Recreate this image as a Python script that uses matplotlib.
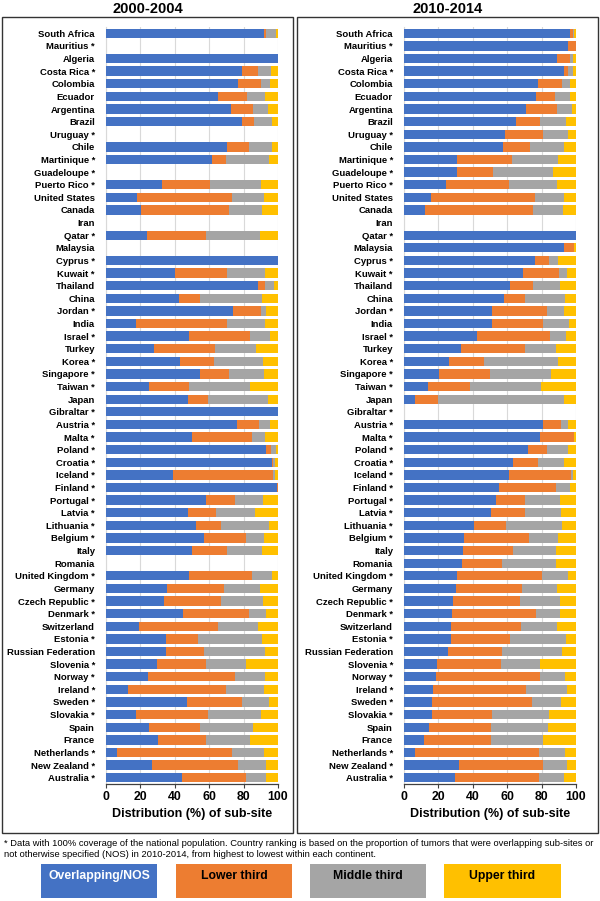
import matplotlib
matplotlib.use("Agg")
import matplotlib.pyplot as plt
from matplotlib.patches import Rectangle
import numpy as np

plt.rcParams['font.family'] = ['Liberation Sans', 'DejaVu Sans']

countries = ["South Africa", "Mauritius *", "Algeria", "Costa Rica *", "Colombia", "Ecuador",
             "Argentina", "Brazil", "Uruguay *", "Chile", "Martinique *", "Guadeloupe *",
             "Puerto Rico *", "United States", "Canada", "Iran", "Qatar *", "Malaysia",
             "Cyprus *", "Kuwait *", "Thailand", "China", "Jordan *", "India", "Israel *",
             "Turkey", "Korea *", "Singapore *", "Taiwan *", "Japan", "Gibraltar *",
             "Austria *", "Malta *", "Poland *", "Croatia *", "Iceland *", "Finland *",
             "Portugal *", "Latvia *", "Lithuania *", "Belgium *", "Italy", "Romania",
             "United Kingdom *", "Germany", "Czech Republic *", "Denmark *", "Switzerland",
             "Estonia *", "Russian Federation", "Slovenia *", "Norway *", "Ireland *",
             "Sweden *", "Slovakia *", "Spain", "France", "Netherlands *", "New Zealand *",
             "Australia *"]

periods = ["2000-2004", "2010-2014"]
series_names = ["Overlapping/NOS", "Lower third", "Middle third", "Upper third"]
colors = ["#4472C4", "#ED7D31", "#A5A5A5", "#FFC000"]

# 2000-2004: [overlapping/NOS, lower, middle, upper]
p1_overlap = [92, 0, 100, 79, 77, 65, 72.6, 79.2, 0, 70.3, 61.7, 0, 32.6, 18.3, 20.6, 0, 23.7, 0,
              100, 40.4, 88.5, 42.3, 73.6, 17.3, 48.5, 28, 43.1, 54.6, 25, 47.8, 100,
              76.3, 49.9, 93, 96.3, 39, 99.4, 57.9, 47.4, 52.2, 57.1, 50.1, 0,
              48.5, 35.5, 33.8, 44.7, 19.4, 34.8, 34.6, 29.9, 24.5, 13, 47, 17.5, 25, 30.1,
              6.2, 26.6, 44.1]
p1_lower = [1, 0, 0, 9.3, 13.2, 16.7, 13, 6.8, 0, 12.8, 8, 0, 27.6, 55.1, 51.1, 0, 34.6, 0,
            0, 29.9, 3.9, 12.5, 16.7, 53.2, 35.4, 35.5, 19.8, 17.2, 23.5, 11.4, 0,
            12.4, 35.1, 3.1, 0.6, 57.9, 0.4, 16.9, 16.5, 14.8, 24.5, 20.2, 0,
            36.4, 33.2, 33, 38.4, 46, 18.8, 22.5, 28.4, 50.3, 56.9, 31.8, 41.7, 29.8, 27.8,
            67, 50.1, 37.1]
p1_middle = [6, 0, 0, 7.4, 4.9, 10.5, 8.4, 10.5, 0, 13.2, 25.3, 0, 29.9, 18.6, 19.2, 0, 31.4, 0,
             0, 22.3, 5.3, 36.1, 2.9, 22.1, 11.4, 23.7, 28.2, 19.9, 35, 35.2, 0,
             6.8, 7.6, 2.7, 1.5, 1.4, 0, 16.3, 22.9, 28, 10.1, 20.4, 0,
             11.4, 21, 24.7, 9.7, 22.8, 37.1, 35.3, 23.1, 17.8, 22.1, 16, 31.1, 30.6, 25.8,
             18.6, 16.3, 11.6]
p1_upper = [1, 0, 0, 4.1, 5, 8, 6, 3.5, 0, 3.7, 5, 0, 9.9, 8, 9.1, 0, 10.3, 0,
            0, 7.4, 2.3, 9.1, 6.8, 7.4, 4.7, 12.8, 8.9, 8.3, 16.5, 5.6, 0,
            4.5, 7.4, 1.2, 1.6, 1.7, 0.2, 8.9, 13.2, 5, 8.3, 9.3, 0,
            3.7, 10.3, 8.5, 7.2, 11.8, 9.3, 7.6, 18.6, 7.4, 8, 5.2, 9.7, 14.6, 16.3,
            8.2, 7, 7.2]

# 2010-2014
p2_overlap = [96.7, 95.1, 88.9, 92.8, 78.1, 76.9, 71.1, 65.2, 59, 57.7, 31.1, 30.7, 24.7, 15.5, 12,
              0, 100, 93.2, 76.3, 69.3, 61.4, 58.3, 51.3, 51.3, 42.3, 33, 26.2, 20.2, 14, 6.4, 0,
              80.6, 78.8, 72, 63.5, 61.2, 55.3, 53.2, 50.7, 40.6, 34.8, 34.4, 33.8,
              30.9, 30.1, 28.7, 28, 27.6, 27.4, 25.8, 19.2, 18.6, 16.9, 16.5, 16.5, 14.6, 11.5,
              6.4, 32.2, 29.5]
p2_lower = [1.4, 4.9, 7.4, 2.5, 13.7, 11.1, 17.6, 13.8, 22, 15.5, 31.4, 21.1, 36.5, 60.8, 62.8,
            0, 0, 5.6, 8.2, 20.6, 13.6, 12.2, 32, 29.7, 42.4, 37.1, 20.2, 29.9, 24.3, 13.4, 0,
            10.5, 19.8, 11.3, 14.4, 36.1, 33, 17.3, 19.8, 18.6, 38, 28.7, 23.3,
            49.1, 38.6, 38.9, 48.5, 40.6, 34.2, 30.9, 37.3, 60.6, 54, 57.7, 34.6, 36.1, 38.8,
            72.2, 48.6, 49.1]
p2_middle = [0.7, 0, 2, 3.1, 4.9, 8.5, 9, 15.2, 14.3, 19.6, 27, 34.6, 27.7, 16.9, 17.6,
             0, 0, 0, 5, 5.1, 15.9, 23.3, 9.5, 14.9, 9.7, 18.1, 43.1, 35.1, 41.5, 73.4, 0,
             4, 0, 12.2, 15.1, 1, 8.2, 20, 21, 32.8, 16.7, 25.2, 31.1,
             15.1, 20.4, 22.9, 14.2, 20.7, 32.4, 35.1, 22.5, 14.6, 24.1, 17.3, 33.4, 32.8, 30.7,
             15.2, 13.8, 14.4]
p2_upper = [1.2, 0, 1.7, 1.6, 3.3, 3.5, 2.3, 5.8, 4.7, 7.2, 10.5, 13.6, 11.1, 6.8, 7.6,
            0, 0, 1.2, 10.5, 5, 9.1, 6.2, 7.2, 4.1, 5.6, 11.8, 10.5, 14.8, 20.2, 6.8, 0,
            4.9, 1.4, 4.5, 7, 1.7, 3.5, 9.5, 8.5, 8, 10.5, 11.7, 11.8,
            4.9, 10.9, 9.5, 9.3, 11.1, 6, 8.2, 21, 6.2, 5, 8.5, 15.5, 16.5, 19,
            6.2, 5.4, 7]

xticks = [0, 20, 40, 60, 80, 100]
xlabel = "Distribution (%) of sub-site"
footnote = ("* Data with 100% coverage of the national population. Country ranking is based on the proportion of tumors that were overlapping sub-sites or\n"
            "not otherwise specified (NOS) in 2010-2014, from highest to lowest within each continent.")

W, H = 600, 901
fig = plt.figure(figsize=(W / 100, H / 100), dpi=100)

def fx(px):
    return px / W

def fy(py):
    return 1 - py / H

panel_data = [[p1_overlap, p1_lower, p1_middle, p1_upper],
              [p2_overlap, p2_lower, p2_middle, p2_upper]]
axes_left_px = [106, 404]
frames = [(2, 293), (297, 598)]
ax_top, ax_bot = 27, 784

for i in range(2):
    x0, x1 = frames[i]
    fig.patches.append(Rectangle((fx(x0), fy(833)), fx(x1) - fx(x0), fy(17) - fy(833),
                                 transform=fig.transFigure, fill=False,
                                 edgecolor="#333333", linewidth=1.0, zorder=0))
    fig.text(fx((x0 + x1) / 2), fy(9), periods[i], ha="center", va="center",
             fontsize=10.5, fontweight="bold")
    ax = fig.add_axes([fx(axes_left_px[i]), fy(ax_bot), 172 / W, (ax_bot - ax_top) / H])
    y = np.arange(len(countries))
    left = np.zeros(len(countries))
    for s, vals in enumerate(panel_data[i]):
        vals = np.array(vals, dtype=float)
        ax.barh(y, vals, left=left, height=0.74, color=colors[s], zorder=3,
                label=series_names[s])
        left += vals
    ax.set_ylim(len(countries) - 0.5, -0.5)
    ax.set_xlim(0, 100)
    ax.set_yticks(y)
    ax.set_yticklabels(countries, fontsize=6.8, fontweight="bold")
    ax.tick_params(axis="y", length=0, pad=8)
    ax.set_xticks(xticks)
    ax.set_xticklabels([str(t) for t in xticks], fontsize=8.8, fontweight="bold")
    ax.tick_params(axis="x", length=3, width=0.8, color="#404040", pad=2)
    ax.grid(axis="x", color="#D9D9D9", linewidth=0.8, zorder=0)
    ax.set_axisbelow(True)
    for sp in ["top", "right"]:
        ax.spines[sp].set_visible(False)
    ax.spines["left"].set_color("#D9D9D9")
    ax.spines["bottom"].set_color("#404040")
    ax.spines["bottom"].set_linewidth(0.9)
    ax.set_xlabel(xlabel, fontsize=9, fontweight="bold", labelpad=4)

fig.text(fx(4), fy(849), footnote, ha="left", va="center", fontsize=6.75,
         linespacing=1.35)

legend_boxes = [(41, 157), (176, 292), (310, 426), (444, 561)]
text_colors = ["white", "black", "black", "black"]
for (bx0, bx1), c, name, tc in zip(legend_boxes, colors, series_names, text_colors):
    fig.patches.append(Rectangle((fx(bx0), fy(898)), fx(bx1) - fx(bx0), fy(864) - fy(898),
                                 transform=fig.transFigure, facecolor=c, edgecolor="none"))
    fig.text(fx((bx0 + bx1) / 2), fy(876), name, ha="center", va="center",
             fontsize=8.8, fontweight="bold", color=tc)

fig.savefig("out.png", dpi=100)
